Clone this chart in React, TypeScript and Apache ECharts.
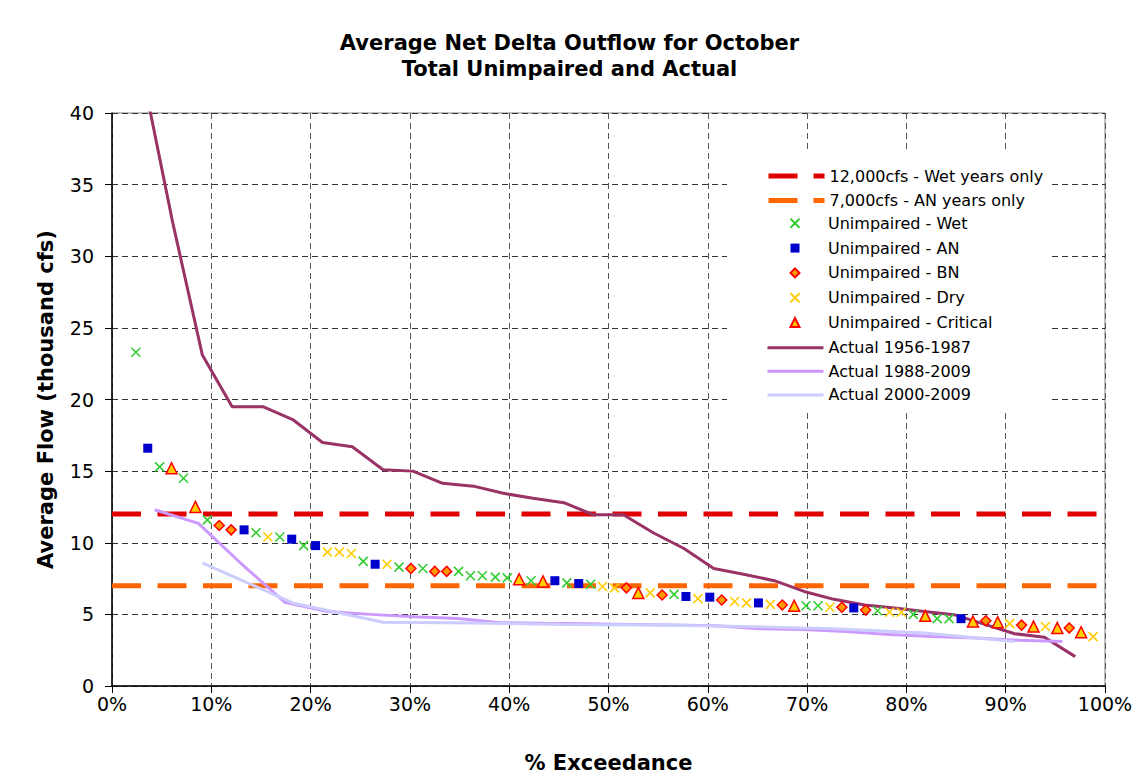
import React, { useEffect, useRef } from "react";
import * as echarts from "echarts";

// ---- Data (exceedance %, thousand cfs) ----
const wetPoints = [
  [2.4, 23.3], [4.8, 15.3], [7.2, 14.5], [9.6, 11.6], [14.5, 10.7], [16.9, 10.4], [19.3, 9.8],
  [25.3, 8.7], [28.9, 8.3], [31.3, 8.2], [34.9, 8.0], [36.1, 7.7], [37.3, 7.7], [38.6, 7.6],
  [39.8, 7.55], [42.2, 7.35], [45.8, 7.2], [48.2, 7.1], [56.6, 6.4], [69.9, 5.6], [71.1, 5.6],
  [77.1, 5.25], [80.7, 5.0], [83.1, 4.7], [84.3, 4.7],
];
const anPoints = [
  [3.6, 16.6], [13.3, 10.9], [18.1, 10.25], [20.5, 9.8], [26.5, 8.5], [44.6, 7.35], [47.0, 7.15],
  [57.8, 6.25], [60.2, 6.2], [65.1, 5.8], [74.7, 5.45], [85.5, 4.7],
];
const bnPoints = [
  [10.8, 11.2], [12.0, 10.9], [30.1, 8.2], [32.5, 8.0], [33.7, 8.0], [51.8, 6.85], [55.4, 6.35],
  [61.4, 6.0], [67.5, 5.65], [73.5, 5.5], [75.9, 5.3], [88.0, 4.55], [91.6, 4.25], [96.4, 4.05],
];
const dryPoints = [
  [15.7, 10.4], [21.7, 9.35], [22.9, 9.35], [24.1, 9.25], [27.7, 8.5], [49.4, 6.95], [50.6, 6.85],
  [54.2, 6.5], [59.0, 6.1], [62.7, 5.9], [63.9, 5.8], [66.3, 5.7], [72.3, 5.5], [78.3, 5.15],
  [79.5, 5.15], [90.4, 4.35], [94.0, 4.15], [98.8, 3.45],
];
const criticalPoints = [
  [6.0, 15.2], [8.4, 12.5], [41.0, 7.45], [43.4, 7.3], [53.0, 6.5], [68.7, 5.6], [81.9, 4.9],
  [86.7, 4.5], [89.2, 4.45], [92.8, 4.15], [95.2, 4.05], [97.6, 3.75],
];

const actual5687X = [3.0, 6.1, 9.1, 12.1, 15.2, 18.2, 21.2, 24.2, 27.3, 30.3, 33.3, 36.4, 39.4, 42.4, 45.5, 48.5,
  51.5, 54.5, 57.6, 60.6, 63.6, 66.7, 69.7, 72.7, 75.8, 78.8, 81.8, 84.8, 87.9, 90.9, 93.9, 97.0];
const actual5687Y = [43, 32.4, 23.1, 19.5, 19.5, 18.6, 17.0, 16.7, 15.1, 15.0, 14.15, 13.95, 13.45, 13.1, 12.8, 11.95,
  11.95, 10.7, 9.6, 8.2, 7.8, 7.35, 6.6, 6.05, 5.65, 5.45, 5.2, 4.98, 4.3, 3.65, 3.4, 2.05];

const actual8809X = [4.3, 8.7, 13.0, 17.4, 21.7, 26.1, 30.4, 34.8, 39.1, 43.5, 47.8, 52.2, 56.5, 60.9, 65.2,
  69.6, 73.9, 78.3, 82.6, 87.0, 91.3, 95.7];
const actual8809Y = [12.3, 11.35, 8.55, 5.85, 5.2, 5.0, 4.83, 4.72, 4.42, 4.38, 4.35, 4.3, 4.25, 4.2, 4.0,
  3.95, 3.8, 3.6, 3.45, 3.35, 3.2, 3.1];

const actual0009X = [9.1, 18.2, 27.3, 36.4, 45.5, 54.5, 63.6, 72.7, 81.8, 90.9];
const actual0009Y = [8.6, 5.8, 4.45, 4.4, 4.3, 4.25, 4.15, 4.0, 3.7, 3.1];

const wetTarget = 12;
const anTarget = 7;
const xRange = [0, 100];

const refNames = ["12,000cfs - Wet years only", "7,000cfs - AN years only"];
const scatterNames = ["Unimpaired - Wet", "Unimpaired - AN", "Unimpaired - BN", "Unimpaired - Dry", "Unimpaired - Critical"];
const lineNames = ["Actual 1956-1987", "Actual 1988-2009", "Actual 2000-2009"];

const FONT = "Verdana, 'DejaVu Sans', sans-serif";
const zip = (xs: number[], ys: number[]) => xs.map((x, i) => [x, ys[i]]);
const X_PATH = "path://M0,0L10,10M10,0L0,10";
const SQUARE_PATH = "path://M0,0H10V10H0Z";
const DIAMOND_PATH = "path://M5,0L10,5L5,10L0,5Z";
const TRIANGLE_PATH = "path://M5,0L10,10H0Z";
const scatterIcons = [X_PATH, SQUARE_PATH, DIAMOND_PATH, X_PATH, TRIANGLE_PATH];

export default function App() {
  const ref = useRef<HTMLDivElement>(null);
  useEffect(() => {
    if (!ref.current) return;
    const chart = echarts.init(ref.current, null, { renderer: "svg" });
    const legendText = { fontSize: 16, color: "#000", fontFamily: FONT, lineHeight: 16 };
    chart.setOption({
      animation: false,
      backgroundColor: "#fff",
      title: {
        text: "Average Net Delta Outflow for October\nTotal Unimpaired and Actual",
        left: "center",
        top: 25,
        textStyle: { fontSize: 21, fontWeight: "bold", color: "#000", fontFamily: FONT, lineHeight: 26 },
      },
      grid: { left: 112, right: 34, top: 113, bottom: 94, show: true, borderColor: "#808080", borderWidth: 1 },
      legend: [
        {
          data: refNames, orient: "vertical", left: 766, top: 168, itemWidth: 56, itemHeight: 14, itemGap: 8.5,
          padding: 0, textStyle: legendText, selectedMode: false,
          itemStyle: { opacity: 0 }, lineStyle: { width: 5, type: [29, 16] },
        },
        {
          data: scatterNames.map((n, i) => ({ name: n, icon: scatterIcons[i] })),
          orient: "vertical", left: 789.5, top: 215.3, itemWidth: 56, itemHeight: 9, itemGap: 8.8,
          padding: 0, textStyle: legendText, selectedMode: false, symbolKeepAspect: true,
        },
        {
          data: lineNames, orient: "vertical", left: 766, top: 339.7, itemWidth: 56, itemHeight: 14, itemGap: 7.6,
          padding: 0, textStyle: legendText, selectedMode: false,
          itemStyle: { opacity: 0 }, lineStyle: { width: 3 },
        },
      ],
      graphic: [
        { type: "rect", z: 3, shape: { x: 727, y: 152, width: 322, height: 261 }, style: { fill: "#fff" }, silent: true },
      ],
      xAxis: {
        type: "value", min: xRange[0], max: xRange[1], interval: 10,
        name: "% Exceedance", nameLocation: "middle", nameGap: 66,
        nameTextStyle: { fontSize: 21, fontWeight: "bold", color: "#000", fontFamily: FONT },
        axisLine: { lineStyle: { color: "#000", width: 1.5 } },
        axisTick: { show: true, length: 7, lineStyle: { color: "#000" } },
        axisLabel: { formatter: "{value}%", fontSize: 19, color: "#000", fontFamily: FONT, margin: 8 },
        splitLine: { show: true, lineStyle: { color: "#555", type: [6, 4], width: 1 } },
      },
      yAxis: {
        type: "value", min: 0, max: 40, interval: 5,
        name: "Average Flow (thousand cfs)", nameLocation: "middle", nameGap: 56,
        nameTextStyle: { fontSize: 21, fontWeight: "bold", color: "#000", fontFamily: FONT },
        axisLine: { show: true, lineStyle: { color: "#000", width: 1.5 } },
        axisTick: { show: true, length: 7, lineStyle: { color: "#000" } },
        axisLabel: { fontSize: 19, color: "#000", fontFamily: FONT, margin: 18 },
        splitLine: { show: true, lineStyle: { color: "#333", type: [6, 4], width: 1 } },
      },
      series: [
        {
          name: refNames[0], type: "line", symbol: "none", z: 2,
          data: [[xRange[0], wetTarget], [xRange[1], wetTarget]],
          lineStyle: { color: "#E00000", width: 5, type: [29, 16.5] }, itemStyle: { color: "#E00000" },
        },
        {
          name: refNames[1], type: "line", symbol: "none", z: 2,
          data: [[xRange[0], anTarget], [xRange[1], anTarget]],
          lineStyle: { color: "#FF6600", width: 5, type: [29, 16.5] }, itemStyle: { color: "#FF6600" },
        },
        {
          name: lineNames[0], type: "line", symbol: "none", data: zip(actual5687X, actual5687Y), z: 3,
          lineStyle: { color: "#993366", width: 3 }, itemStyle: { color: "#993366" },
        },
        {
          name: lineNames[1], type: "line", symbol: "none", data: zip(actual8809X, actual8809Y), z: 3,
          lineStyle: { color: "#CC99FF", width: 3 }, itemStyle: { color: "#CC99FF" },
        },
        {
          name: lineNames[2], type: "line", symbol: "none", data: zip(actual0009X, actual0009Y), z: 3,
          lineStyle: { color: "#CCCCFF", width: 3 }, itemStyle: { color: "#CCCCFF" },
        },
        {
          name: scatterNames[0], type: "scatter", data: wetPoints, symbol: X_PATH, symbolSize: 9, z: 4,
          itemStyle: { color: "rgba(0,0,0,0)", borderColor: "#33CC33", borderWidth: 1.6, opacity: 1 },
        },
        {
          name: scatterNames[1], type: "scatter", data: anPoints, symbol: "rect", symbolSize: 9, z: 4,
          itemStyle: { color: "#0000CC", opacity: 1 },
        },
        {
          name: scatterNames[2], type: "scatter", data: bnPoints, symbol: "diamond", symbolSize: 10, z: 4,
          itemStyle: { color: "#FF9900", borderColor: "#FF0000", borderWidth: 1.5, opacity: 1 },
        },
        {
          name: scatterNames[3], type: "scatter", data: dryPoints, symbol: X_PATH, symbolSize: 9, z: 4,
          itemStyle: { color: "rgba(0,0,0,0)", borderColor: "#FFCC00", borderWidth: 1.6, opacity: 1 },
        },
        {
          name: scatterNames[4], type: "scatter", data: criticalPoints, symbol: "triangle", symbolSize: 11, z: 4,
          itemStyle: { color: "#FFCC00", borderColor: "#FF0000", borderWidth: 1.5, opacity: 1 },
        },
      ],
    });
    return () => chart.dispose();
  }, []);
  return (
    <div
      ref={ref}
      style={{ position: "fixed", left: 0, top: 0, width: 1139, height: 780, background: "#fff" }}
    />
  );
}
